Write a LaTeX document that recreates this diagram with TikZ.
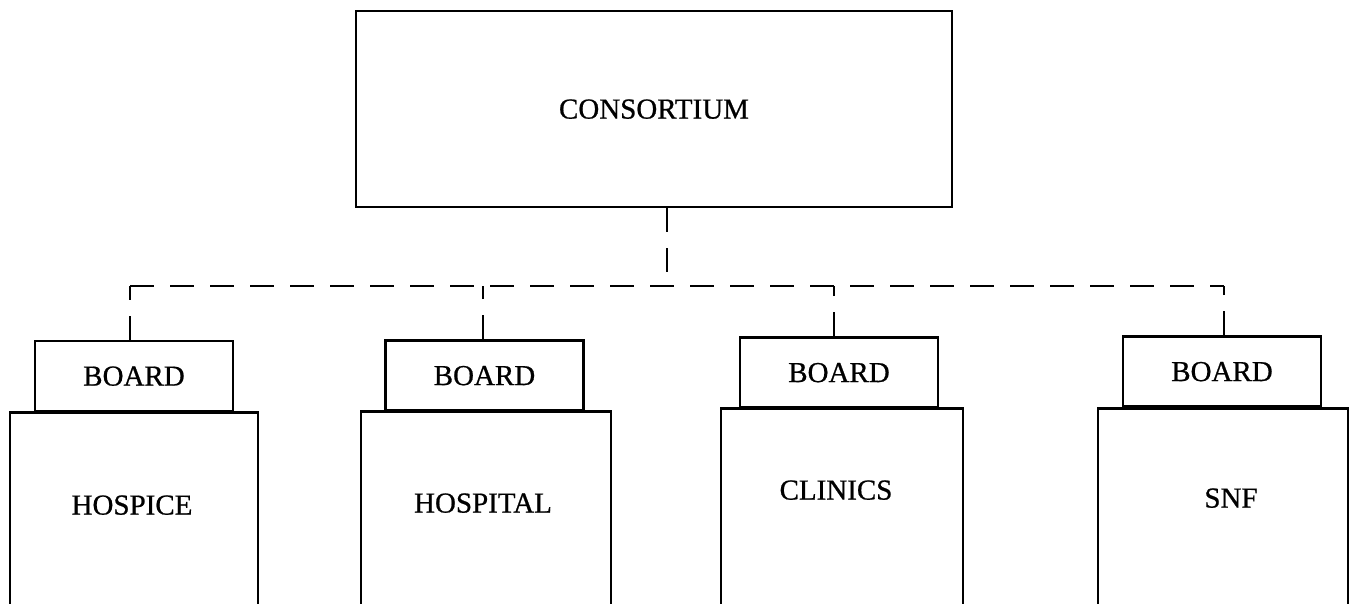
\documentclass[tikz,border=0pt]{standalone}
\usepackage{fontspec}
\setmainfont{Liberation Serif}
\newfontfamily\heavyserif{Liberation Serif}[FakeBold=0.7]
\newcommand\orglabelfont{\heavyserif\fontsize{14.5}{17}\selectfont}
\begin{document}
\begin{tikzpicture}[x=0.5pt,y=-0.5pt,
  frame/.style={draw, line width=1.3pt, inner sep=0pt, font=\orglabelfont,
    text height=9.6pt, text depth=0pt},
  boardbox/.style={frame, minimum width=99pt, minimum height=35pt},
  unitbox/.style={frame, minimum height=115pt, anchor=north},
  caption/.style={inner sep=0pt, font=\orglabelfont, text height=9.6pt, text depth=0pt},
  bus/.style={line width=1.1pt, dash pattern=on 12pt off 8pt}]
  % page area
  \fill[white] (0,0) rectangle (1350,604);
  \clip (0,0) rectangle (1350,604);

  % top body
  \node[frame, minimum width=298pt, minimum height=98pt] (cons) at (654,109) {CONSORTIUM};

  % member boards
  \node[boardbox] (b1) at (134,376) {BOARD};
  \node[boardbox] (b2) at (484.5,375.5) {BOARD};
  \node[boardbox] (b3) at (839,372.5) {BOARD};
  \node[boardbox] (b4) at (1222,371.5) {BOARD};

  % member organisations (open at the foot of the page)
  \node[unitbox, minimum width=124pt] (u1) at (134,411) {};
  \node[unitbox, minimum width=125pt] (u2) at (486,410) {};
  \node[unitbox, minimum width=121pt] (u3) at (842,407) {};
  \node[unitbox, minimum width=125pt] (u4) at (1223,407) {};

  \node[caption] (t1) at (132,505) {HOSPICE};
  \node[caption] (t2) at (483,503) {HOSPITAL};
  \node[caption] (t3) at (836,490) {CLINICS};
  \node[caption] (t4) at (1231,498) {SNF};

  % dashed reporting lines
  \coordinate (j0) at (667,286);
  \coordinate (j1) at (130,286);
  \coordinate (j2) at (483,286);
  \coordinate (j3) at (834,286);
  \coordinate (j4) at (1224,286);
  \draw[bus] (j1) -- (j4);
  \draw[bus] (cons.south -| j0) -- (j0);
  \draw[bus] (b1.north -| j1) -- (j1);
  \draw[bus] (b2.north -| j2) -- (j2);
  \draw[bus] (b3.north -| j3) -- (j3);
  \draw[bus] (b4.north -| j4) -- (j4);
\end{tikzpicture}
\end{document}
